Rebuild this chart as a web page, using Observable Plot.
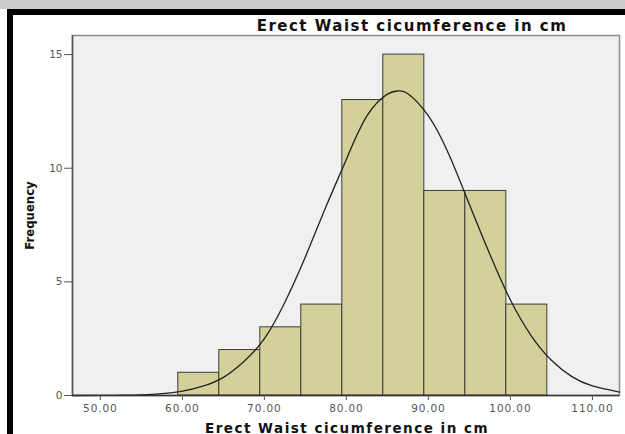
<!DOCTYPE html>
<html><head><meta charset="utf-8">
<script src="https://cdn.jsdelivr.net/npm/d3@7"></script>
<script src="https://cdn.jsdelivr.net/npm/@observablehq/plot@0.6"></script>
<style>
body{margin:0;background:#fff;}
#wrap{position:relative;width:625px;height:434px;overflow:hidden;background:#fff;}
#chart{position:absolute;left:0;top:0;}
.band{position:absolute;left:0;top:0;width:625px;height:9px;background:#cccccc;}
.topline{position:absolute;left:7px;top:9px;width:618px;height:6px;background:#000;}
.leftline{position:absolute;left:7px;top:9px;width:6px;height:425px;background:#000;}
</style></head><body>
<div id="wrap"><div id="chart"></div><div class="band"></div><div class="topline"></div><div class="leftline"></div></div>
<script>
// Histogram bins (cm) and counts
const binStart = [59.5, 64.5, 69.5, 74.5, 79.5, 84.5, 89.5, 94.5, 99.5];
const binEnd   = [64.5, 69.5, 74.5, 79.5, 84.5, 89.5, 94.5, 99.5, 104.5];
const frequency = [1, 2, 3, 4, 13, 15, 9, 9, 4];

// Fitted normal curve
const curveX = [46.6, 50, 52.5, 55, 57.5, 60, 62.5, 65, 67.5, 70, 72.5, 75, 77.5, 80, 82.5, 85, 86.3, 87.5, 90, 92.5, 95, 97.5, 100, 102.5, 105, 107.5, 110, 113.3];
const curveY = [0.0, 0.004, 0.01, 0.03, 0.08, 0.19, 0.41, 0.8, 1.5, 2.5, 4.1, 6.1, 8.3, 10.4, 12.3, 13.26, 13.4, 13.28, 12.3, 10.6, 8.4, 6.2, 4.2, 2.65, 1.55, 0.83, 0.42, 0.15];

const xTicks = [50, 60, 70, 80, 90, 100, 110];
const yTicks = [0, 5, 10, 15];
const titleText = "Erect Waist cicumference in cm";
const xLabelText = "Erect Waist cicumference in cm";
const yLabelText = "Frequency";

const bins = binStart.map((s, i) => ({x1: s, x2: binEnd[i], y: frequency[i]}));
const curve = curveX.map((x, i) => ({x, y: curveY[i]}));

const wide = "'DejaVu Sans', Verdana, sans-serif";

const plot = Plot.plot({
  width: 625, height: 434,
  marginLeft: 72, marginRight: 6, marginTop: 35, marginBottom: 39,
  style: {fontFamily: wide, fontSize: "10px", background: "transparent", color: "#555"},
  x: {domain: [46.6, 113.3]},
  y: {domain: [0, 15.84]},
  marks: [
    Plot.frame({fill: "#f0f0f0", stroke: "#8c8c8c", strokeWidth: 1.5}),
    Plot.rectY(bins, {x1: "x1", x2: "x2", y: "y", fill: "#d4d09a", stroke: "#3c3c3c", strokeWidth: 1}),
    Plot.line(curve, {x: "x", y: "y", curve: "natural", stroke: "#222", strokeWidth: 1.3}),
    Plot.ruleX([46.6], {stroke: "#555", strokeWidth: 1.5}),
    Plot.ruleY([0], {stroke: "#333", strokeWidth: 1.5}),
    Plot.axisX({ticks: xTicks, tickFormat: d3.format(".2f"), tickSize: 5, tickPadding: 4, label: null, fill: "#555", stroke: "#555", fontSize: 10.5}),
    Plot.axisY({ticks: yTicks, tickSize: 8, tickPadding: 2, label: null, fill: "#555", stroke: "#555", fontSize: 10.5}),
    Plot.text([titleText], {frameAnchor: "top", dx: 66, dy: -5, lineAnchor: "bottom", fontSize: 15, fontWeight: "bold", fill: "#111", fontFamily: wide}),
    Plot.text([xLabelText], {frameAnchor: "bottom", dx: 1, dy: 37, lineAnchor: "bottom", fontSize: 13.5, fontWeight: "bold", fill: "#111", fontFamily: wide}),
    Plot.text([yLabelText], {frameAnchor: "left", textAnchor: "middle", dx: -43, dy: 0, rotate: -90, fontSize: 13, fontWeight: "bold", fill: "#111", fontFamily: "'Liberation Sans Narrow', 'DejaVu Sans Condensed', Arial, sans-serif"})
  ]
});
const sel = d3.select(plot).selectAll("text");
sel.filter(function(){ return this.textContent === titleText; }).style("letter-spacing", "1.35px");
sel.filter(function(){ return this.textContent === xLabelText; }).style("letter-spacing", "1.5px");
sel.filter(function(){ return /\d\.\d\d$/.test(this.textContent); }).style("letter-spacing", "0.9px");
document.getElementById("chart").appendChild(plot);
</script>
</body></html>
